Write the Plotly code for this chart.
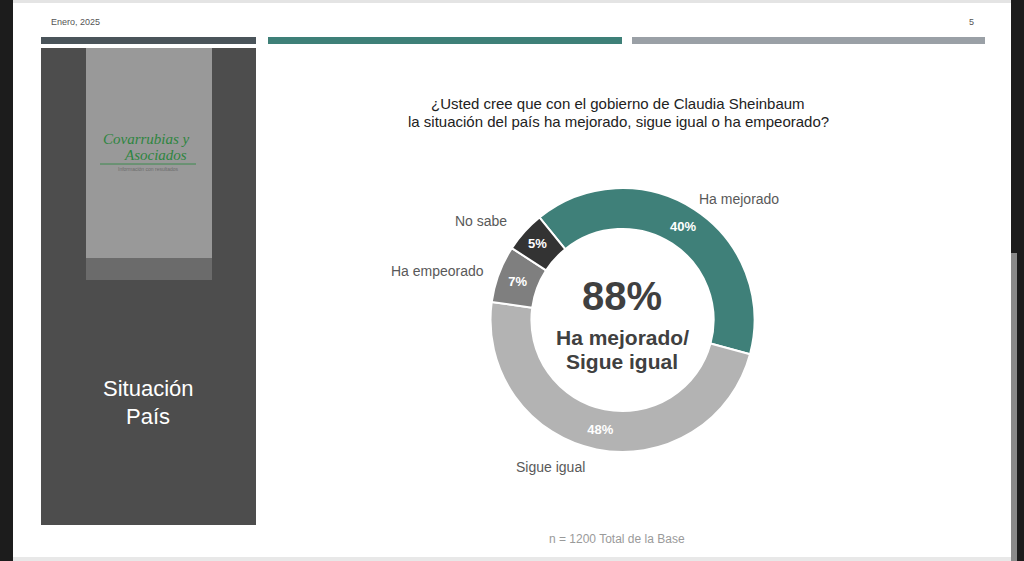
import plotly.graph_objects as go

W, H = 1024, 561

# ---- data ----
categories = ["Ha mejorado", "Sigue igual", "Ha empeorado", "No sabe"]
values = [40, 48, 7, 5]
colors = ["#3f8079", "#b3b3b3", "#7f7f7f", "#333333"]
header_date = "Enero, 2025"
page_num = "5"
title_lines = ["¿Usted cree que con el gobierno de Claudia Sheinbaum",
               "la situación del país ha mejorado, sigue igual o ha empeorado?"]
section_lines = ["Situación", "País"]
center_caption = ["Ha mejorado/", "Sigue igual"]
footnote = "n = 1200 Total de la Base"

FONT = "Liberation Sans, Arial, sans-serif"


def px(x):
    return x / W


def py(y):
    return 1 - y / H


def rect(x0, y0, x1, y1, color, layer="below"):
    return dict(type="rect", xref="paper", yref="paper",
                x0=px(x0), x1=px(x1), y0=py(y1), y1=py(y0),
                fillcolor=color, line=dict(width=0), layer=layer)


def text(x, y, s, size, color="#333333", bold=False, anchor="center", family=FONT, italic=False):
    if bold:
        s = "<b>" + s + "</b>"
    if italic:
        s = "<i>" + s + "</i>"
    return dict(xref="paper", yref="paper", x=px(x), y=py(y), text=s,
                showarrow=False, xanchor=anchor, yanchor="middle",
                font=dict(size=size, color=color, family=family))


fig = go.Figure()

cx, cy, r = 622.5, 320, 132
fig.add_trace(go.Pie(
    labels=categories, values=values, sort=False, direction="clockwise",
    rotation=-39, hole=0.69,
    marker=dict(colors=colors, line=dict(color="white", width=2)),
    texttemplate="<b>%{value}%</b>", textinfo="text",
    textposition="inside", insidetextorientation="horizontal",
    textfont=dict(size=13, color="white", family=FONT),
    showlegend=False, hoverinfo="label+value",
    domain=dict(x=[px(cx - r), px(cx + r)], y=[py(cy + r), py(cy - r)]),
))

shapes = [
    rect(0, 0, W, H, "#1c1c1c"),
    rect(13, 0, 1011, 3, "#e4e4e4"),
    rect(13, 3, 1011, 557, "#ffffff"),
    rect(13, 557, 1011, H, "#e8e8e8"),
    rect(1011, 253, 1017, H, "#8a8a8a"),
    # header bars
    rect(41, 37, 256, 44, "#4a545a"),
    rect(268, 37, 622, 44, "#3e8078"),
    rect(632, 37, 985, 44, "#9aa0a6"),
    # left panel
    rect(41, 48, 256, 525, "#4d4d4d"),
    rect(86, 48, 212, 258, "#999999"),
    rect(86, 258, 212, 280, "#6b6b6b"),
    # logo underline
    dict(type="line", xref="paper", yref="paper", x0=px(100), x1=px(196),
         y0=py(164), y1=py(164), line=dict(color="#3d8a4f", width=1), layer="below"),
]

annotations = [
    text(49, 22, header_date, 9, "#555555", anchor="left"),
    text(976, 22, page_num, 9, "#555555", anchor="right"),
    text(618, 103, title_lines[0], 15, "#222222"),
    text(618, 121, title_lines[1], 15, "#222222"),
    text(146, 139, "Covarrubias y", 15, "#2e8540", family="Liberation Serif, serif", italic=True),
    text(155, 155, "Asociados", 15, "#2e8540", family="Liberation Serif, serif", italic=True),
    text(148, 169, "Información con resultados", 5, "#6b6b6b"),
    text(148, 388, section_lines[0], 22, "#ffffff"),
    text(148, 416, section_lines[1], 22, "#ffffff"),
    # outside category labels
    text(739, 199, categories[0], 14, "#595959"),
    text(550, 467, categories[1], 14, "#595959"),
    text(437, 271, categories[2], 14, "#595959"),
    text(481, 221, categories[3], 14, "#595959"),
    # center
    text(622, 296, f"{values[0] + values[1]}%", 40, "#404040", bold=True),
    text(622, 337, center_caption[0], 21, "#404040", bold=True),
    text(622, 361, center_caption[1], 21, "#404040", bold=True),
    text(617, 539, footnote, 12, "#9a9a9a"),
]

fig.update_layout(
    width=W, height=H, margin=dict(l=0, r=0, t=0, b=0),
    paper_bgcolor="#1c1c1c", plot_bgcolor="#1c1c1c",
    shapes=shapes, annotations=annotations,
    xaxis=dict(visible=False), yaxis=dict(visible=False),
)

fig.write_html("out.html")
